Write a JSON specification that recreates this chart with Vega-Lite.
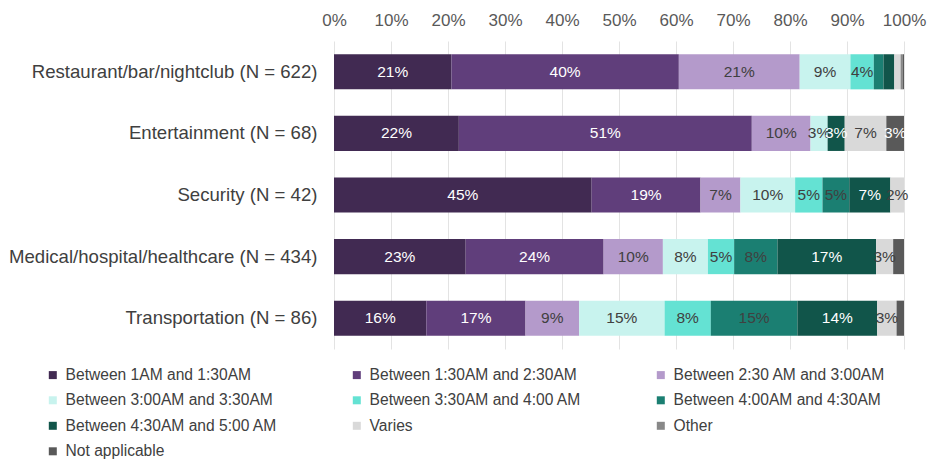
{
  "$schema": "https://vega.github.io/schema/vega-lite/v6.json",
  "width": 570,
  "height": 308,
  "autosize": {"type": "none"},
  "padding": {"left": 334, "top": 41, "right": 25, "bottom": 112},
  "background": "white",
  "config": {
    "font": "Liberation Sans",
    "view": {"stroke": null}
  },
  "data": {
    "values": [
      {"cat": "Restaurant/bar/nightclub (N = 622)", "time": "Between 1AM and 1:30AM", "value": 20.6},
      {"cat": "Restaurant/bar/nightclub (N = 622)", "time": "Between 1:30AM and 2:30AM", "value": 39.9},
      {"cat": "Restaurant/bar/nightclub (N = 622)", "time": "Between 2:30 AM and 3:00AM", "value": 21.2},
      {"cat": "Restaurant/bar/nightclub (N = 622)", "time": "Between 3:00AM and 3:30AM", "value": 8.9},
      {"cat": "Restaurant/bar/nightclub (N = 622)", "time": "Between 3:30AM and 4:00 AM", "value": 4.1},
      {"cat": "Restaurant/bar/nightclub (N = 622)", "time": "Between 4:00AM and 4:30AM", "value": 1.7},
      {"cat": "Restaurant/bar/nightclub (N = 622)", "time": "Between 4:30AM and 5:00 AM", "value": 1.9},
      {"cat": "Restaurant/bar/nightclub (N = 622)", "time": "Varies", "value": 1.1},
      {"cat": "Restaurant/bar/nightclub (N = 622)", "time": "Other", "value": 0.4},
      {"cat": "Restaurant/bar/nightclub (N = 622)", "time": "Not applicable", "value": 0.2},
      {"cat": "Entertainment (N = 68)", "time": "Between 1AM and 1:30AM", "value": 21.9},
      {"cat": "Entertainment (N = 68)", "time": "Between 1:30AM and 2:30AM", "value": 51.4},
      {"cat": "Entertainment (N = 68)", "time": "Between 2:30 AM and 3:00AM", "value": 10.3},
      {"cat": "Entertainment (N = 68)", "time": "Between 3:00AM and 3:30AM", "value": 3.0},
      {"cat": "Entertainment (N = 68)", "time": "Between 4:30AM and 5:00 AM", "value": 3.0},
      {"cat": "Entertainment (N = 68)", "time": "Varies", "value": 7.3},
      {"cat": "Entertainment (N = 68)", "time": "Not applicable", "value": 3.1},
      {"cat": "Security (N = 42)", "time": "Between 1AM and 1:30AM", "value": 45.2},
      {"cat": "Security (N = 42)", "time": "Between 1:30AM and 2:30AM", "value": 19.1},
      {"cat": "Security (N = 42)", "time": "Between 2:30 AM and 3:00AM", "value": 7.0},
      {"cat": "Security (N = 42)", "time": "Between 3:00AM and 3:30AM", "value": 9.6},
      {"cat": "Security (N = 42)", "time": "Between 3:30AM and 4:00 AM", "value": 4.8},
      {"cat": "Security (N = 42)", "time": "Between 4:00AM and 4:30AM", "value": 4.7},
      {"cat": "Security (N = 42)", "time": "Between 4:30AM and 5:00 AM", "value": 7.2},
      {"cat": "Security (N = 42)", "time": "Varies", "value": 2.4},
      {"cat": "Medical/hospital/healthcare (N = 434)", "time": "Between 1AM and 1:30AM", "value": 23.1},
      {"cat": "Medical/hospital/healthcare (N = 434)", "time": "Between 1:30AM and 2:30AM", "value": 24.2},
      {"cat": "Medical/hospital/healthcare (N = 434)", "time": "Between 2:30 AM and 3:00AM", "value": 10.4},
      {"cat": "Medical/hospital/healthcare (N = 434)", "time": "Between 3:00AM and 3:30AM", "value": 7.9},
      {"cat": "Medical/hospital/healthcare (N = 434)", "time": "Between 3:30AM and 4:00 AM", "value": 4.6},
      {"cat": "Medical/hospital/healthcare (N = 434)", "time": "Between 4:00AM and 4:30AM", "value": 7.6},
      {"cat": "Medical/hospital/healthcare (N = 434)", "time": "Between 4:30AM and 5:00 AM", "value": 17.3},
      {"cat": "Medical/hospital/healthcare (N = 434)", "time": "Varies", "value": 3.0},
      {"cat": "Medical/hospital/healthcare (N = 434)", "time": "Not applicable", "value": 1.9},
      {"cat": "Transportation (N = 86)", "time": "Between 1AM and 1:30AM", "value": 16.2},
      {"cat": "Transportation (N = 86)", "time": "Between 1:30AM and 2:30AM", "value": 17.4},
      {"cat": "Transportation (N = 86)", "time": "Between 2:30 AM and 3:00AM", "value": 9.4},
      {"cat": "Transportation (N = 86)", "time": "Between 3:00AM and 3:30AM", "value": 15.0},
      {"cat": "Transportation (N = 86)", "time": "Between 3:30AM and 4:00 AM", "value": 8.1},
      {"cat": "Transportation (N = 86)", "time": "Between 4:00AM and 4:30AM", "value": 15.2},
      {"cat": "Transportation (N = 86)", "time": "Between 4:30AM and 5:00 AM", "value": 14.0},
      {"cat": "Transportation (N = 86)", "time": "Varies", "value": 3.4},
      {"cat": "Transportation (N = 86)", "time": "Not applicable", "value": 1.3}
    ]
  },
  "transform": [
    {"calculate": "indexof(['Between 1AM and 1:30AM','Between 1:30AM and 2:30AM','Between 2:30 AM and 3:00AM','Between 3:00AM and 3:30AM','Between 3:30AM and 4:00 AM','Between 4:00AM and 4:30AM','Between 4:30AM and 5:00 AM','Varies','Other','Not applicable'], datum.time)", "as": "ord"},
    {"stack": "value", "groupby": ["cat"], "sort": [{"field": "ord", "order": "ascending"}], "as": ["x0", "x1"]},
    {"calculate": "(datum.x0 + datum.x1) / 2", "as": "mid"},
    {"calculate": "round(datum.value) + '%'", "as": "label"}
  ],
  "encoding": {
    "y": {
      "field": "cat",
      "type": "nominal",
      "sort": ["Restaurant/bar/nightclub (N = 622)", "Entertainment (N = 68)", "Security (N = 42)", "Medical/hospital/healthcare (N = 434)", "Transportation (N = 86)"],
      "scale": {"paddingInner": 0.43, "paddingOuter": 0.215},
      "axis": {"title": null, "domain": false, "ticks": false, "labelFontSize": 18.6, "labelColor": "#404040", "labelPadding": 17, "labelLimit": 400}
    }
  },
  "layer": [
    {
      "mark": {"type": "bar"},
      "encoding": {
        "x": {
          "field": "x0",
          "type": "quantitative",
          "scale": {"domain": [0, 100], "nice": false},
          "axis": {"orient": "top", "title": null, "values": [0,10,20,30,40,50,60,70,80,90,100], "labelExpr": "datum.value + '%'", "labelOverlap": false, "labelBound": false, "labelFlush": false, "domain": false, "ticks": false, "gridColor": "#e3e3e3", "gridWidth": 1, "labelFontSize": 17, "labelColor": "#595959", "labelPadding": 12}
        },
        "x2": {"field": "x1"},
        "color": {
          "field": "time",
          "type": "nominal",
          "scale": {
            "domain": ["Between 1AM and 1:30AM","Between 1:30AM and 2:30AM","Between 2:30 AM and 3:00AM","Between 3:00AM and 3:30AM","Between 3:30AM and 4:00 AM","Between 4:00AM and 4:30AM","Between 4:30AM and 5:00 AM","Varies","Other","Not applicable"],
            "range": ["#412a52","#603e7b","#b49acb","#c8f3ee","#64e2d3","#1b7f72","#11554a","#d9d9d9","#888888","#595959"]
          },
          "legend": {
            "title": null,
            "orient": "none",
            "legendX": -289,
            "legendY": 326,
            "direction": "horizontal",
            "columns": 3,
            "gridAlign": "all",
            "columnPadding": 71,
            "rowPadding": 8.5,
            "symbolType": "square",
            "symbolSize": 64,
            "symbolStrokeWidth": 0,
            "labelFontSize": 15.6,
            "labelColor": "#404040",
            "labelOffset": 5,
            "labelLimit": 300
          }
        }
      }
    },
    {
      "transform": [{"filter": "datum.value >= 2"}],
      "mark": {"type": "text", "fontSize": 15.5},
      "encoding": {
        "x": {"field": "mid", "type": "quantitative"},
        "text": {"field": "label", "type": "nominal"},
        "color": {
          "condition": {"test": "indexof(['Between 1AM and 1:30AM','Between 1:30AM and 2:30AM','Between 4:30AM and 5:00 AM','Other','Not applicable'], datum.time) >= 0", "value": "white"},
          "value": "#404040"
        }
      }
    }
  ]
}
